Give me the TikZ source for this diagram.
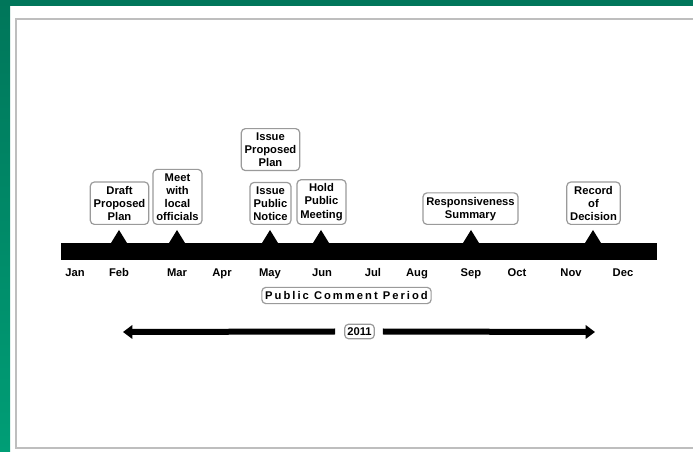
\documentclass[tikz,border=0pt]{standalone}
\usepackage{fontspec}
\setmainfont{Liberation Sans}
\usetikzlibrary{arrows.meta, positioning}
\tikzset{>=stealth}
\definecolor{framegreen}{HTML}{00765A}
\definecolor{lightgreen}{HTML}{00C890}
\definecolor{lowgreen}{HTML}{009E76}
\definecolor{framegray}{HTML}{BEBEBE}
\definecolor{boxgray}{HTML}{9A9A9A}
\tikzset{
  event/.style={draw=boxgray, line width=0.9pt, rounded corners=3pt, fill=white, align=center,
    inner xsep=2.5pt, inner ysep=3pt, font=\fontsize{8.4}{9.8}\selectfont\bfseries, anchor=south},
  month/.style={font=\fontsize{8.4}{9.8}\selectfont\bfseries, text height=6.2pt, text depth=1.8pt},
  yeararrow/.style={line width=4.5pt, -{Triangle[length=7pt,width=10pt]}}
}

\begin{document}
\begin{tikzpicture}[x=0.75pt, y=-0.75pt]
\useasboundingbox (0,0) rectangle (693,452);
\clip (0,0) rectangle (693,452);
\fill[white] (0,0) rectangle (693,452);
\fill[framegreen] (0,0) rectangle (693,6);
\shade[top color=framegreen, middle color=lightgreen, bottom color=lowgreen] (0,0) rectangle (10,452);
\draw[framegray, line width=1.5pt] (16,19) rectangle (720,448);

% timeline bar and event markers
\fill (61,243) rectangle (657,260);
\foreach \t in {119,177,270,321,471,593}
  \fill (\t-8,243) -- (\t,230) -- (\t+8,243) -- cycle;

\node[event] (draft) at (119.5,225) {Draft\\Proposed\\Plan};
\node[event] (meet) at (177.5,225) {Meet\\with\\local\\officials};
\node[event] (notice) at (270.5,225) {Issue\\Public\\Notice};
\node[event, above=8pt of notice] (issue) {Issue\\Proposed\\Plan};
\node[event] (meeting) at (321.5,225) {Hold\\Public\\Meeting};
\node[event] (summary) at (470.5,225) {Responsiveness\\Summary};
\node[event] (decision) at (593.5,225) {Record\\of\\Decision};

\foreach \m/\x in {Jan/75,Feb/119,Mar/177,Apr/222,May/270,Jun/322,Jul/373,Aug/417,Sep/471,Oct/517,Nov/571,Dec/623}
  \node[month] (\m) at (\x,274) {\m};

\node[event, anchor=center] (comment) at (346.5,295.5) {\addfontfeatures{LetterSpace=18}Public Comment Period};

% year span
\node[event, anchor=center, inner xsep=2pt, inner ysep=2.5pt] (yr) at (359.5,331.5) {2011};
\coordinate (yrstart) at (123,332);
\coordinate (yrend) at (595,332);
\draw[yeararrow] ([xshift=-6.75pt]yr.west) -- (yrstart);
\draw[yeararrow] ([xshift=6pt]yr.east) -- (yrend);
\end{tikzpicture}
\end{document}
